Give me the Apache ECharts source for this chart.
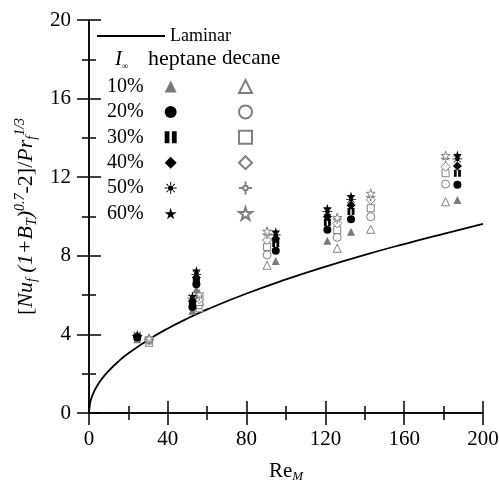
<!DOCTYPE html>
<html>
<head>
<meta charset="utf-8">
<script src="https://cdn.jsdelivr.net/npm/echarts@6/dist/echarts.min.js"></script>
<style>html,body{margin:0;padding:0;background:#fff}#c{width:499px;height:483px}</style>
</head>
<body>
<div id="c"></div>
<script>
// ---- data ----
const levels = ['10%', '20%', '30%', '40%', '50%', '60%'];

const heptaneRe = [24.5, 52.5, 54.5, 94.8, 121, 133, 187];
const heptane10 = [3.75, 5.20, 6.30, 7.73, 8.77, 9.23, 10.84];
const heptane20 = [3.85, 5.40, 6.55, 8.26, 9.33, 9.86, 11.62];
const heptane30 = [3.85, 5.55, 6.75, 8.63, 9.70, 10.25, 12.20];
const heptane40 = [3.90, 5.70, 6.90, 8.87, 9.99, 10.57, 12.57];
const heptane50 = [3.95, 5.85, 7.05, 9.06, 10.25, 10.87, 12.93];
const heptane60 = [3.95, 5.95, 7.25, 9.23, 10.42, 11.04, 13.13];

const decaneRe = [30.5, 56, 90.4, 126, 143, 181];
const decane10 = [3.60, 5.35, 7.52, 8.38, 9.35, 10.75];
const decane20 = [3.70, 5.50, 8.05, 8.94, 9.99, 11.65];
const decane30 = [3.70, 5.65, 8.45, 9.31, 10.42, 12.20];
const decane40 = [3.75, 5.80, 8.80, 9.65, 10.85, 12.53];
const decane50 = [3.75, 5.95, 9.10, 9.87, 11.01, 12.96];
const decane60 = [3.80, 6.05, 9.25, 9.95, 11.18, 13.10];

const laminarRe  = [0, 0.5, 1, 2, 4, 7, 10, 15, 20, 30, 40, 50, 60, 80, 100, 120, 140, 160, 180, 200];
const laminarVal = [0, 0.48, 0.68, 0.96, 1.36, 1.80, 2.15, 2.63, 3.04, 3.72, 4.30, 4.81, 5.27, 6.08, 6.80, 7.45, 8.05, 8.60, 9.12, 9.62];

// ---- styling ----
const FF = "'Liberation Serif', 'Times New Roman', serif";
const STAR = 'path://M50,0 L61,35 L98,35 L68,57 L79,91 L50,70 L21,91 L32,57 L2,35 L39,35 Z';
const SUN = 'path://M5.5,10 A4.5,4.5 0 1,1 14.5,10 A4.5,4.5 0 1,1 5.5,10 Z M0,9.2 L5,9.2 L5,10.8 L0,10.8 Z M15,9.2 L20,9.2 L20,10.8 L15,10.8 Z M9.2,0 L10.8,0 L10.8,5 L9.2,5 Z M9.2,15 L10.8,15 L10.8,20 L9.2,20 Z M2.5,3.6 L3.6,2.5 L6.8,5.7 L5.7,6.8 Z M16.4,2.5 L17.5,3.6 L14.3,6.8 L13.2,5.7 Z M2.5,16.4 L3.6,17.5 L6.8,14.3 L5.7,13.2 Z M17.5,16.4 L16.4,17.5 L13.2,14.3 L14.3,13.2 Z';
const SUN_OPEN = 'path://M6.5,10 A3.5,3.5 0 1,1 13.5,10 A3.5,3.5 0 1,1 6.5,10 Z M0,10 L5,10 Z M15,10 L20,10 Z M10,0 L10,5 Z M10,15 L10,20 Z';
const BARS = 'path://M0,0 L4,0 L4,10 L0,10 Z M6,0 L10,0 L10,10 L6,10 Z';

const heptaneSym = ['triangle', 'circle', BARS, 'diamond', SUN, STAR];
const decaneSym  = ['triangle', 'circle', 'rect', 'diamond', SUN_OPEN, STAR];
const heptaneSize = [8, 8, 7, 9, 10, 9];
const decaneSize  = [8, 8, 7, 9, 9, 9];

const heptaneVals = [heptane10, heptane20, heptane30, heptane40, heptane50, heptane60];
const decaneVals  = [decane10, decane20, decane30, decane40, decane50, decane60];

const series = [];
series.push({
  name: 'Laminar', type: 'line', smooth: true, symbol: 'none',
  data: laminarRe.map((x, i) => [x, laminarVal[i]]),
  lineStyle: { color: '#000', width: 1.8 }, itemStyle: { color: '#000' }, z: 1
});
levels.forEach((lv, k) => {
  series.push({
    name: 'heptane ' + lv, type: 'scatter',
    symbol: heptaneSym[k], symbolSize: heptaneSize[k],
    data: heptaneRe.map((x, i) => [x, heptaneVals[k][i]]),
    itemStyle: { color: k === 0 ? '#7a7a7a' : '#000', opacity: 1 }, z: 3
  });
});
levels.forEach((lv, k) => {
  series.push({
    name: 'decane ' + lv, type: 'scatter',
    symbol: decaneSym[k], symbolSize: decaneSize[k],
    data: decaneRe.map((x, i) => [x, decaneVals[k][i]]),
    itemStyle: { color: '#fff', borderColor: '#808080', borderWidth: 1, opacity: 1 }, z: 2
  });
});

const axisLineStyle = { lineStyle: { color: '#000', width: 1.5 } };
const tickCommon = { show: true, inside: false, length: 12, lineStyle: { color: '#000', width: 1.5 } };
const minorCommon = { show: true, splitNumber: 2, length: 7, lineStyle: { color: '#000', width: 1.5 } };
const labelFont = { fontFamily: FF, fontSize: 21, color: '#000' };

const chart = echarts.init(document.getElementById('c'), null, { renderer: 'canvas' });
chart.setOption({
  animation: false,
  backgroundColor: '#fff',
  grid: { left: 89, right: 16, top: 20, bottom: 70, containLabel: false, outerBoundsMode: 'none' },
  xAxis: [
    {
      type: 'value', min: 0, max: 200, interval: 40, position: 'bottom',
      axisLine: axisLineStyle, axisTick: tickCommon, minorTick: minorCommon,
      splitLine: { show: false },
      axisLabel: Object.assign({ margin: 16, hideOverlap: false }, labelFont),
      name: '{n|Re}{sub|M}', nameLocation: 'middle', nameGap: 46,
      nameTextStyle: { rich: {
        n: { fontFamily: FF, fontSize: 21, color: '#000', lineHeight: 24 },
        sub: { fontFamily: FF, fontSize: 13, fontStyle: 'italic', color: '#000', lineHeight: 13, verticalAlign: 'bottom' }
      } }
    },
    {
      type: 'value', min: 0, max: 200, interval: 40, position: 'top',
      axisLine: axisLineStyle, axisTick: tickCommon, minorTick: minorCommon,
      splitLine: { show: false }, axisLabel: { show: false }
    }
  ],
  yAxis: [
    {
      type: 'value', min: 0, max: 20, interval: 4, position: 'left',
      axisLine: axisLineStyle, axisTick: tickCommon, minorTick: minorCommon,
      splitLine: { show: false },
      axisLabel: Object.assign({ margin: 18 }, labelFont),
      name: '{n|[}{i|Nu}{sub|f}{n| }{i|(1+B}{sub|T}{i|)}{sup|0.7}{n|-2]/}{i|Pr}{sub|f}{sup|1/3}',
      nameLocation: 'middle', nameGap: 50,
      nameTextStyle: { rich: {
        n: { fontFamily: FF, fontSize: 22, color: '#000', lineHeight: 26 },
        i: { fontFamily: FF, fontSize: 22, fontStyle: 'italic', color: '#000', lineHeight: 26 },
        sub: { fontFamily: FF, fontSize: 14, fontStyle: 'italic', color: '#000', lineHeight: 14, verticalAlign: 'bottom' },
        sup: { fontFamily: FF, fontSize: 14, fontStyle: 'italic', color: '#000', lineHeight: 14, verticalAlign: 'top' }
      } }
    },
    {
      type: 'value', min: 0, max: 20, interval: 4, position: 'right',
      axisLine: axisLineStyle, axisTick: tickCommon, minorTick: minorCommon,
      splitLine: { show: false }, axisLabel: { show: false }
    }
  ],
  legend: [
    {
      data: [{ name: 'Laminar', icon: 'rect' }],
      left: 97, top: 26, padding: 0, itemWidth: 68, itemHeight: 2, itemGap: 0,
      textStyle: { fontFamily: FF, fontSize: 18, color: '#000', lineHeight: 20 },
      selectedMode: false
    },
    {
      data: levels.map(l => 'heptane ' + l), orient: 'vertical', align: 'right',
      left: 107, top: 76, padding: 0, itemWidth: 12, itemHeight: 12, itemGap: 4.4,
      formatter: n => n.split(' ')[1],
      textStyle: { fontFamily: FF, fontSize: 20, color: '#000', lineHeight: 21, padding: [0, 16, 0, 0] },
      selectedMode: false
    },
    {
      data: levels.map(l => 'decane ' + l), orient: 'vertical',
      left: 238, top: 76, padding: 0, itemWidth: 13, itemHeight: 13, itemGap: 4.4,
      formatter: () => ' ',
      textStyle: { fontFamily: FF, fontSize: 20, color: '#000', lineHeight: 21 },
      selectedMode: false
    }
  ],
  graphic: [
    { type: 'text', left: 115, top: 49, style: { text: '{i|I}{sub|∞}', rich: {
        i: { fontFamily: FF, fontSize: 21, fontStyle: 'italic', fill: '#000', lineHeight: 24 },
        sub: { fontFamily: FF, fontSize: 9, fill: '#000', lineHeight: 9, verticalAlign: 'bottom' } } } },
    { type: 'text', left: 148, top: 48, style: { text: 'heptane', fontFamily: FF, fontSize: 22, fill: '#000' } },
    { type: 'text', left: 222, top: 48, style: { text: 'decane', fontFamily: FF, fontSize: 21, fill: '#000' } }
  ],
  series: series
});
</script>
</body>
</html>
